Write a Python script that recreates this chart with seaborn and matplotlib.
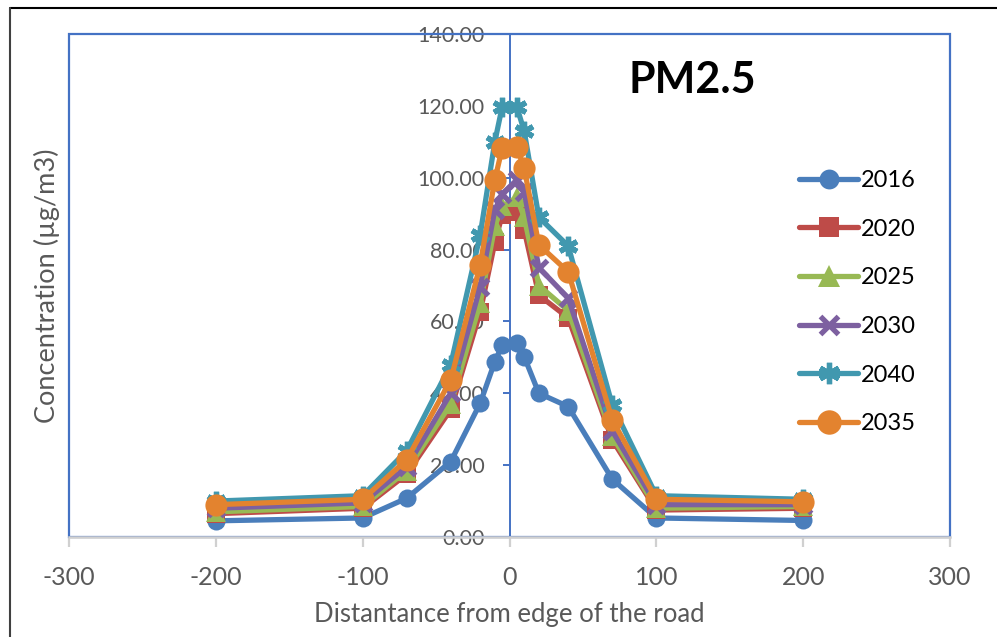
import matplotlib
matplotlib.use("Agg")
import matplotlib.pyplot as plt
from matplotlib.patches import Rectangle
from matplotlib.lines import Line2D
import seaborn as sns

# distance from the edge of the road (m)
dist = [-200, -100, -70, -40, -20, -10, -5, 5, 10, 20, 40, 70, 100, 200]

# PM2.5 concentration (ug/m3) per year
pm_2016 = [4.5, 5.3, 10.8, 21.0, 37.2, 48.8, 53.4, 53.9, 50.2, 40.0, 36.3, 16.1, 5.3, 4.6]
pm_2020 = [6.5, 8.0, 17.5, 35.5, 62.5, 82.0, 89.6, 90.5, 85.5, 67.3, 61.0, 27.0, 7.5, 8.0]
pm_2025 = [7.0, 8.5, 18.5, 37.0, 65.0, 86.5, 92.0, 94.5, 89.0, 70.0, 63.0, 28.0, 8.0, 8.5]
pm_2030 = [8.0, 9.5, 19.5, 40.0, 69.6, 91.0, 95.5, 99.4, 96.0, 75.0, 66.5, 29.5, 9.0, 9.0]
pm_2040 = [10.0, 11.5, 24.0, 48.0, 84.0, 110.0, 119.7, 119.7, 113.0, 89.0, 81.0, 36.7, 11.5, 10.5]
pm_2035 = [9.0, 10.5, 21.5, 43.7, 75.7, 99.4, 108.2, 108.5, 102.7, 81.3, 73.8, 32.6, 10.5, 9.8]

years = ["2016", "2020", "2025", "2030", "2040", "2035"]
series = [pm_2016, pm_2020, pm_2025, pm_2030, pm_2040, pm_2035]

x_ticks = [-300, -200, -100, 0, 100, 200, 300]
y_ticks = [0, 20, 40, 60, 80, 100, 120, 140]

# style
colors = ["#4A7EBB", "#BE4B48", "#98B954", "#7D60A0", "#4198AF", "#E3832F"]
markers = ["o", "s", "^", "x", (6, 2, 0), "o"]
msizes = [13, 13, 14, 12, 14, 16]

sns.set_style("white")
plt.rcParams['font.family'] = ['Lato', 'DejaVu Sans']
plt.rcParams['axes.unicode_minus'] = False

BLUE = "#4472C4"
GREY = "#595959"

fig = plt.figure(figsize=(9.97, 6.37), dpi=100)
ax = fig.add_axes([69 / 997, 1 - 537 / 637, 881 / 997, 503 / 637])

for yr, vals, c, m, ms in zip(years, series, colors, markers, msizes):
    sns.lineplot(x=dist, y=vals, ax=ax, color=c, lw=3.8, marker=m,
                 markersize=ms, markeredgewidth=3.8 if m in ("x", (6, 2, 0)) else 0,
                 markeredgecolor=c, label=yr, zorder=3)

ax.set_xlim(-300, 300)
ax.set_ylim(0, 140)
ax.set_xticks(x_ticks)
ax.set_yticks(y_ticks)
ax.set_yticklabels([f"{v:.2f}" for v in y_ticks])

# plot area box
ax.add_patch(Rectangle((0, 0), 1, 1, transform=ax.transAxes, fill=False,
                       edgecolor=BLUE, lw=1.6, zorder=1, clip_on=False))
for s in ["top", "right"]:
    ax.spines[s].set_visible(False)
ax.spines["left"].set_position(("data", 0))
ax.spines["left"].set_color(BLUE)
ax.spines["left"].set_linewidth(1.4)
ax.spines["left"].set_zorder(2)
ax.spines["bottom"].set_color("#D0D0D0")
ax.spines["bottom"].set_linewidth(1.8)

ax.tick_params(axis="y", direction="out", length=5, width=1.4, color=BLUE,
               labelsize=15.5, labelcolor=GREY, pad=13, left=True)
ax.tick_params(axis="x", direction="out", length=7, width=1.6, color="#D0D0D0",
               labelsize=18, labelcolor=GREY, pad=14, bottom=True)

ax.set_xlabel("Distantance from edge of the road", fontsize=18.5, color=GREY)
ax.set_ylabel("Concentration (µg/m3)", fontsize=19.5, color=GREY)
ax.xaxis.set_label_coords(0.5, -0.13)
ax.yaxis.set_label_coords(-0.01, 0.5)

ax.text(0.707, 0.908, "PM2.5", transform=ax.transAxes, fontsize=31,
        fontweight="bold", color="black", ha="center", va="center")

leg = ax.legend(loc="upper left", bbox_to_anchor=(799 / 997, 1 - 170 / 637),
                bbox_transform=fig.transFigure, frameon=False, fontsize=17,
                handlelength=2.5, handletextpad=0.1, labelspacing=1.17,
                borderpad=0, borderaxespad=0, markerscale=1.1)
for t in leg.get_texts():
    t.set_color("black")

# outer chart frame (partly cropped)
fig.add_artist(Line2D([10 / 997, 1], [1 - 8 / 637, 1 - 8 / 637],
                      transform=fig.transFigure, color="black", lw=1.5))
fig.add_artist(Line2D([10 / 997, 10 / 997], [0, 1 - 8 / 637],
                      transform=fig.transFigure, color="#404040", lw=1.5))

fig.savefig("out.png", dpi=100)
